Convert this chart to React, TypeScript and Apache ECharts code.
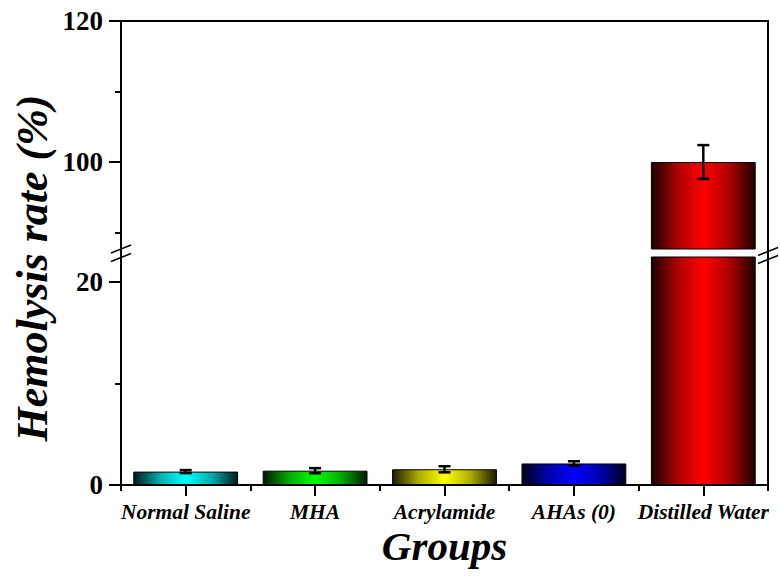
import React, { useEffect, useRef } from 'react';
import * as echarts from 'echarts';

const categories = ['Normal Saline', 'MHA', 'Acrylamide', 'AHAs (0)', 'Distilled Water'];
const means = [1.32, 1.41, 1.55, 2.12, 100];
const errors = [0.15, 0.25, 0.3, 0.22, 2.4];
const barColors = ['#00FFFF', '#00FF00', '#FFFF00', '#0000FF', '#FF0000'];
const upperTickLabels = [100, 120];
const upperMinorTicks = [90, 110];
const lowerTickLabels = [0, 20];
const lowerMinorTicks = [10];

const UPPER_MIN = 87.66;
const UPPER_MAX = 120;
const LOWER_MIN = 0;
const LOWER_MAX = 22.46;

const FONT = '"Liberation Serif", "Times New Roman", serif';

function shade(hex: string, f: number): string {
  const n = parseInt(hex.slice(1), 16);
  const r = Math.round(((n >> 16) & 255) * f);
  const g = Math.round(((n >> 8) & 255) * f);
  const b = Math.round((n & 255) * f);
  return `rgb(${r},${g},${b})`;
}

function barItem(i: number) {
  const c = barColors[i];
  return {
    value: means[i],
    itemStyle: {
      color: new echarts.graphic.LinearGradient(0, 0, 1, 0, [
        { offset: 0, color: shade(c, 0.1) },
        { offset: 0.25, color: shade(c, 0.68) },
        { offset: 0.5, color: c },
        { offset: 0.75, color: shade(c, 0.68) },
        { offset: 1, color: shade(c, 0.1) },
      ]),
      borderColor: '#000',
      borderWidth: 1,
    },
  };
}

function errRender(params: any, api: any) {
  const x = api.value(0);
  const m = api.value(1);
  const e = api.value(2);
  const top = api.coord([x, m + e]);
  const bot = api.coord([x, m - e]);
  const hw = 6;
  const st = { stroke: '#000', lineWidth: 2.5 };
  return {
    type: 'group',
    children: [
      { type: 'line', shape: { x1: top[0], y1: top[1], x2: bot[0], y2: bot[1] }, style: st },
      { type: 'line', shape: { x1: top[0] - hw, y1: top[1], x2: top[0] + hw, y2: top[1] }, style: st },
      { type: 'line', shape: { x1: bot[0] - hw, y1: bot[1], x2: bot[0] + hw, y2: bot[1] }, style: st },
    ],
  };
}

export default function App() {
  const ref = useRef<HTMLDivElement>(null);
  useEffect(() => {
    if (!ref.current) return;
    const chart = echarts.init(ref.current, null, { renderer: 'svg' });
    const axisLineStyle = { color: '#000', width: 2 };
    const gridLeft = 121;
    const gridRight = 12;
    const upperTop = 21;
    const upperH = 228;
    const lowerTop = 257;
    const lowerH = 228;
    const xL = gridLeft;
    const xR = 780 - gridRight;
    const breakLine = (cx: number, cy: number) => ({
      type: 'line',
      shape: { x1: cx - 10, y1: cy + 4, x2: cx + 10, y2: cy - 4 },
      style: { stroke: '#000', lineWidth: 1.5 },
      z: 100,
    });

    const upperBars = means.map((v, i) => (v > UPPER_MIN ? barItem(i) : '-'));
    const lowerBars = means.map((_, i) => barItem(i));
    const upperErr = means
      .map((m, i) => [i, m, errors[i]])
      .filter((d) => d[1] - d[2] >= UPPER_MIN);
    const lowerErr = means
      .map((m, i) => [i, m, errors[i]])
      .filter((d) => d[1] + d[2] <= LOWER_MAX);

    const option: any = {
      animation: false,
      backgroundColor: '#fff',
      grid: [
        { left: gridLeft, right: gridRight, top: upperTop, height: upperH, outerBoundsMode: 'none', containLabel: false },
        { left: gridLeft, right: gridRight, top: lowerTop, height: lowerH, outerBoundsMode: 'none', containLabel: false },
      ],
      xAxis: [
        {
          type: 'category', gridIndex: 0, data: categories, position: 'top',
          axisLine: { show: true, lineStyle: axisLineStyle },
          axisTick: { show: false }, axisLabel: { show: false }, splitLine: { show: false },
        },
        {
          type: 'category', gridIndex: 1, data: categories, position: 'bottom',
          axisLine: { show: true, lineStyle: axisLineStyle },
          axisTick: { show: true, alignWithLabel: true, length: 11, lineStyle: axisLineStyle },
          axisLabel: {
            interval: 0, margin: 16, color: '#000', fontFamily: FONT,
            fontWeight: 'bold', fontStyle: 'italic', fontSize: 21.5,
          },
          name: 'Groups', nameLocation: 'middle', nameGap: 40,
          nameTextStyle: { color: '#000', fontFamily: FONT, fontWeight: 'bold', fontStyle: 'italic', fontSize: 41 },
          splitLine: { show: false },
        },
        {
          type: 'category', gridIndex: 1, data: categories, position: 'bottom',
          axisLine: { show: false },
          axisTick: { show: true, alignWithLabel: false, length: 6, lineStyle: axisLineStyle },
          axisLabel: { show: false }, splitLine: { show: false },
        },
      ],
      yAxis: [
        {
          type: 'value', gridIndex: 0, position: 'left', min: UPPER_MIN, max: UPPER_MAX,
          axisLine: { show: true, lineStyle: axisLineStyle },
          axisTick: { show: true, length: 12, customValues: upperTickLabels, lineStyle: axisLineStyle },
          axisLabel: {
            customValues: upperTickLabels, margin: 18, color: '#000', fontFamily: FONT,
            fontWeight: 'bold', fontSize: 27,
          },
          splitLine: { show: false },
        },
        {
          type: 'value', gridIndex: 0, position: 'left', min: UPPER_MIN, max: UPPER_MAX,
          axisLine: { show: false },
          axisTick: { show: true, length: 6, customValues: upperMinorTicks, lineStyle: axisLineStyle },
          axisLabel: { show: false }, splitLine: { show: false },
        },
        {
          type: 'value', gridIndex: 0, position: 'right', min: UPPER_MIN, max: UPPER_MAX,
          axisLine: { show: true, lineStyle: axisLineStyle },
          axisTick: { show: false }, axisLabel: { show: false }, splitLine: { show: false },
        },
        {
          type: 'value', gridIndex: 1, position: 'left', min: LOWER_MIN, max: LOWER_MAX,
          axisLine: { show: true, lineStyle: axisLineStyle },
          axisTick: { show: true, length: 12, customValues: lowerTickLabels, lineStyle: axisLineStyle },
          axisLabel: {
            customValues: lowerTickLabels, margin: 18, color: '#000', fontFamily: FONT,
            fontWeight: 'bold', fontSize: 27,
          },
          splitLine: { show: false },
        },
        {
          type: 'value', gridIndex: 1, position: 'left', min: LOWER_MIN, max: LOWER_MAX,
          axisLine: { show: false },
          axisTick: { show: true, length: 6, customValues: lowerMinorTicks, lineStyle: axisLineStyle },
          axisLabel: { show: false }, splitLine: { show: false },
        },
        {
          type: 'value', gridIndex: 1, position: 'right', min: LOWER_MIN, max: LOWER_MAX,
          axisLine: { show: true, lineStyle: axisLineStyle },
          axisTick: { show: false }, axisLabel: { show: false }, splitLine: { show: false },
        },
      ],
      series: [
        {
          type: 'bar', xAxisIndex: 0, yAxisIndex: 0, data: upperBars, barWidth: '81%', clip: true, z: 2,
        },
        {
          type: 'bar', xAxisIndex: 1, yAxisIndex: 3, data: lowerBars, barWidth: '81%', clip: true, z: 2,
        },
        {
          type: 'custom', xAxisIndex: 0, yAxisIndex: 0, data: upperErr, renderItem: errRender,
          encode: { x: 0, y: 1 }, z: 5,
        },
        {
          type: 'custom', xAxisIndex: 1, yAxisIndex: 3, data: lowerErr, renderItem: errRender,
          encode: { x: 0, y: 1 }, z: 5,
        },
      ],
      graphic: [
        { type: 'line', shape: { x1: xL, y1: upperTop + upperH, x2: xL, y2: lowerTop }, style: { stroke: '#000', lineWidth: 2 } },
        { type: 'line', shape: { x1: xR, y1: upperTop + upperH, x2: xR, y2: lowerTop }, style: { stroke: '#000', lineWidth: 2 } },
        breakLine(xL, 249),
        breakLine(xL, 257.5),
        breakLine(xR, 251.5),
        breakLine(xR, 259.5),
        {
          type: 'text',
          x: 32,
          y: 268,
          rotation: Math.PI / 2,
          style: {
            text: 'Hemolysis rate (%)',
            fill: '#000',
            fontFamily: FONT,
            fontWeight: 'bold',
            fontStyle: 'italic',
            fontSize: 44,
            align: 'center',
            verticalAlign: 'middle',
          },
        },
      ],
    };
    chart.setOption(option);
    return () => chart.dispose();
  }, []);
  return (
    <div
      ref={ref}
      style={{ position: 'absolute', left: 0, top: 0, width: 780, height: 578, background: '#fff' }}
    />
  );
}
